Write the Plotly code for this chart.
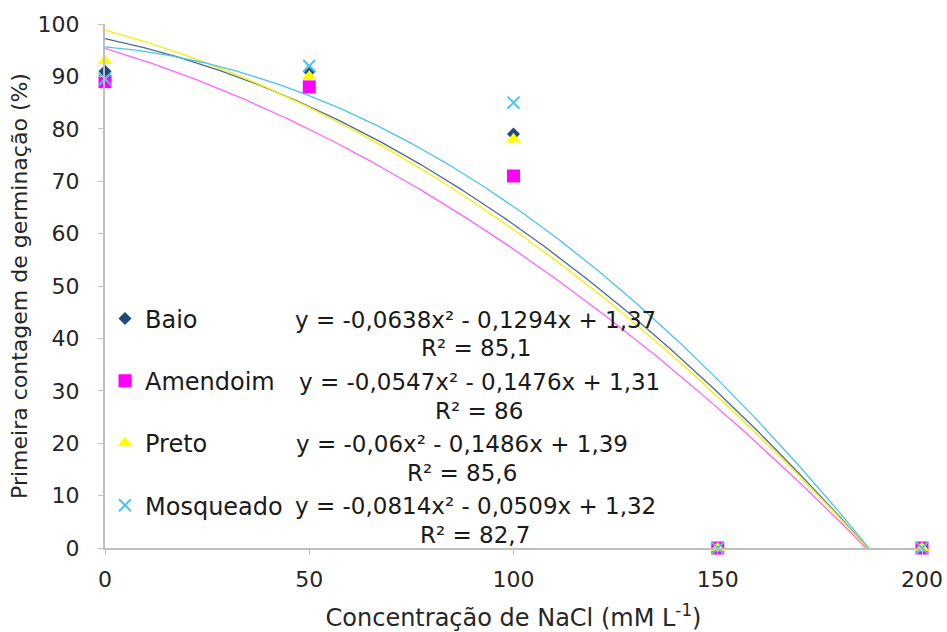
import numpy as np
import plotly.graph_objects as go

conc = [0, 50, 100, 150, 200]
series_names = ["Baio", "Amendoim", "Preto", "Mosqueado"]
baio = [91, 91, 79, 0, 0]
amendoim = [89, 88, 71, 0, 0]
preto = [93, 90, 78, 0, 0]
mosqueado = [89.5, 92, 85, 0, 0]
eq_texts = [
    "y = -0,0638x² - 0,1294x + 1,37",
    "y = -0,0547x² - 0,1476x + 1,31",
    "y = -0,06x² - 0,1486x + 1,39",
    "y = -0,0814x² - 0,0509x + 1,32",
]
r2_texts = ["R² = 85,1", "R² = 86", "R² = 85,6", "R² = 82,7"]
label_x = [90.8, 91.6, 87.4, 90.6]
eq_y = [43.5, 31.7, 19.8, 8.0]
r2_y = [38.2, 26.1, 14.3, 2.5]
y_ticks = list(range(0, 101, 10))
x_ticks = [0, 50, 100, 150, 200]

values = [baio, amendoim, preto, mosqueado]
colors = ["#1F497D", "#FF00FF", "#FFFF00", "#4DC3F0"]
line_colors = ["#4F6A92", "#FF66FF", "#F2F200", "#4DC3F0"]
symbols = ["diamond", "square", "triangle-up", "x-thin"]
sizes = [10, 13, 13, 12]

FONT = "DejaVu Sans, Liberation Sans, Arial, sans-serif"
fig = go.Figure()

xs = np.linspace(0, 200, 401)
for name, vals, lc in zip(series_names, values, line_colors):
    coef = np.polyfit(conc, vals, 2)
    fig.add_trace(go.Scatter(x=xs, y=np.polyval(coef, xs), mode="lines",
                             line=dict(color=lc, width=1.3), showlegend=False,
                             hoverinfo="skip"))

for i in range(4):
    fig.add_trace(go.Scatter(
        x=conc, y=values[i], mode="markers", name=series_names[i],
        legendgroup=series_names[i], legendrank=i + 1,
        marker=dict(symbol=symbols[i], size=sizes[i], color=colors[i],
                    line=dict(width=2 if symbols[i] == "x-thin" else 0, color=colors[i])),
        cliponaxis=False))

for k in range(4):
    for txt, yy in ((eq_texts[k], eq_y[k]), (r2_texts[k], r2_y[k])):
        fig.add_annotation(text=txt, xref="x", yref="y", x=label_x[k], y=yy,
                           xanchor="center", yanchor="middle", showarrow=False,
                           font=dict(family=FONT, size=23, color="#1a1a1a"))

fig.update_layout(
    width=947, height=632,
    margin=dict(l=105, r=25, t=24, b=84),
    paper_bgcolor="white", plot_bgcolor="white",
    font=dict(family=FONT, size=22, color="#262626"),
    legend=dict(x=0.0, y=0.48, xanchor="left", yanchor="top", bgcolor="rgba(0,0,0,0)",
                font=dict(family=FONT, size=24, color="#1a1a1a"),
                tracegroupgap=28, itemwidth=30),
    xaxis=dict(range=[0, 200], tickvals=x_ticks, showgrid=False, zeroline=False,
               showline=True, linecolor="#BFBFBF", linewidth=2, ticks="outside",
               ticklen=5, tickcolor="#BFBFBF", ticklabelstandoff=6, automargin=False,
               tickfont=dict(size=22),
               title=dict(text="Concentração de NaCl (mM L<sup>-1</sup>)", standoff=21,
                          font=dict(size=24))),
    yaxis=dict(range=[0, 100], tickvals=y_ticks, showgrid=False, zeroline=False,
               showline=True, linecolor="#BFBFBF", linewidth=2, ticks="outside",
               ticklen=5, tickcolor="#BFBFBF", ticklabelstandoff=14, automargin=False,
               tickfont=dict(size=22),
               title=dict(text="Primeira contagem de germinação (%)", standoff=4,
                          font=dict(size=22))),
)

fig.write_html("out.html", config={"displayModeBar": False},
               post_script="document.body.style.margin='0';document.body.style.overflow='hidden';")
